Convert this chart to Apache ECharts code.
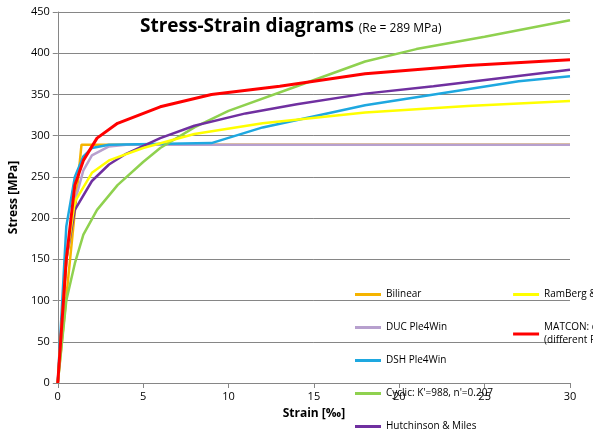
<!DOCTYPE html>
<html><head><meta charset="utf-8">
<script src="https://cdn.jsdelivr.net/npm/echarts@6/dist/echarts.min.js"></script>
<style>body{margin:0}#c{width:593px;height:436px}</style></head>
<body><div id="c"></div>
<script>
var names = ["Bilinear", "DUC Ple4Win", "DSH Ple4Win", "Cyclic: K'=988, n'=0.207", "Hutchinson & Miles", "RamBerg & Osgood", "MATCON: cyclic, K'=528, n'=0.0828\n(different Re=330 MPa)"];
var colors = ["#F5B400", "#B7A0CE", "#1EA8E0", "#8FD14F", "#7030A0", "#FFFF00", "#FF0000"];
var bilinear = [[0,0],[1.39,289],[30,289]];
var duc = [[0,0],[0.5,150],[1,220],[1.5,258],[2,276],[3,287],[4,289],[30,289]];
var dsh = [[0,0],[0.5,190],[1,250],[1.5,275],[2,285],[3,289],[9,291],[12,310],[18,337],[27,366],[30,372]];
var cyclic = [[0,0],[0.5,100],[1,145],[1.5,180],[2.3,210],[3.5,240],[5,268],[6,285],[8,310],[10,330],[14,360],[18,390],[21,405],[25,420],[30,440]];
var hutch = [[0,0],[0.5,150],[1,210],[2,245],[3,265],[4,278],[6,297],[8,312],[11,327],[14,338],[18,351],[22,360],[26,370],[30,380]];
var ramberg = [[0,0],[0.5,150],[1,220],[2,255],[3,270],[5,285],[8,302],[12,315],[18,328],[24,336],[30,342]];
var matcon = [[0,0],[0.5,150],[1,240],[1.5,270],[2.3,297],[3.5,315],[6,335],[9,350],[13,360],[18,375],[24,385],[30,392]];
var data = [bilinear, duc, dsh, cyclic, hutch, ramberg, matcon];

var chart = echarts.init(document.getElementById('c'));
chart.setOption({
    animation: false,
    textStyle: {fontFamily: 'Open Sans'},
    title: {
        text: 'Stress-Strain diagrams {s|(Re = 289 MPa)}',
        left: 135, top: 12,
        textStyle: {fontSize: 19, fontWeight: 'bold', color: '#000', rich: {s: {fontSize: 12, fontWeight: 'normal', color: '#000', padding: [4, 0, 0, 0]}}}
    },
    grid: {left: 55, right: 23, top: 12, bottom: 53},
    legend: {
        orient: 'vertical', left: 350, top: 283, height: 160, itemGap: 20,
        itemWidth: 26, itemHeight: 3, icon: 'rect',
        textStyle: {fontSize: 10, color: '#000', lineHeight: 13},
        data: names
    },
    xAxis: {
        type: 'value', min: 0, max: 30, interval: 5,
        name: 'Strain [‰]', nameLocation: 'middle', nameGap: 25,
        nameTextStyle: {fontWeight: 'bold', fontSize: 12, color: '#000'},
        axisLine: {lineStyle: {color: '#868686'}}, axisTick: {show: true},
        axisLabel: {color: '#000', fontSize: 11}, splitLine: {show: false}
    },
    yAxis: {
        type: 'value', min: 0, max: 450, interval: 50,
        name: 'Stress [MPa]', nameLocation: 'middle', nameGap: 34,
        nameTextStyle: {fontWeight: 'bold', fontSize: 12, color: '#000'},
        axisLine: {show: true, lineStyle: {color: '#868686'}}, axisTick: {show: true},
        axisLabel: {color: '#000', fontSize: 11}, splitLine: {lineStyle: {color: '#868686'}}
    },
    series: data.map(function(d, i) {
        return {
            name: names[i], type: 'line', data: d, showSymbol: false, smooth: false,
            lineStyle: {width: i == 6 ? 3 : 2.5, color: colors[i]},
            itemStyle: {color: colors[i]}, z: i == 6 ? 10 : 2
        };
    })
});
</script></body></html>
